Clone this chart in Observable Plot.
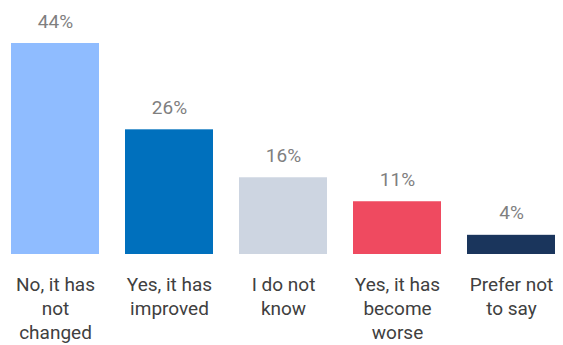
<!DOCTYPE html>
<html><head><meta charset="utf-8">
<script src="https://cdn.jsdelivr.net/npm/d3@7"></script>
<script src="https://cdn.jsdelivr.net/npm/@observablehq/plot@0.6"></script>
<style>body{margin:0;background:#fff;} svg{display:block;}</style>
</head><body><div id="chart"></div>
<script>
const categories = ["No, it has not changed", "Yes, it has improved", "I do not know", "Yes, it has become worse", "Prefer not to say"];
const tickLabels = ["No, it has\nnot\nchanged", "Yes, it has\nimproved", "I do not\nknow", "Yes, it has\nbecome\nworse", "Prefer not\nto say"];
const values = [44, 26, 16, 11, 4];
const colors = ["#8fbcff", "#0070bd", "#cdd5e1", "#ef4a60", "#1a355c"];

const data = categories.map((c, i) => ({category: c, value: values[i], color: colors[i], label: tickLabels[i]}));
const labelOf = new Map(data.map(d => [d.category, d.label]));

const chart = Plot.plot({
  width: 563,
  height: 345,
  marginLeft: 9,
  marginRight: 5,
  marginTop: 43,
  marginBottom: 91,
  style: {fontFamily: "Roboto, 'Liberation Sans', Arial, sans-serif", background: "#fff"},
  x: {domain: categories, paddingInner: 0.226, paddingOuter: 0},
  y: {domain: [0, 44], axis: null},
  marks: [
    Plot.barY(data, {x: "category", y: "value", fill: "color"}),
    Plot.text(data, {x: "category", y: "value", text: d => d.value + "%", dy: -22, fill: "#7f7f7f", fontSize: 19}),
    Plot.axisX({tickSize: 0, tickPadding: 20, tickFormat: d => labelOf.get(d), fontSize: 19, lineHeight: 1.25, fill: "#404040", label: null})
  ]
});
document.getElementById("chart").append(chart);
</script></body></html>
